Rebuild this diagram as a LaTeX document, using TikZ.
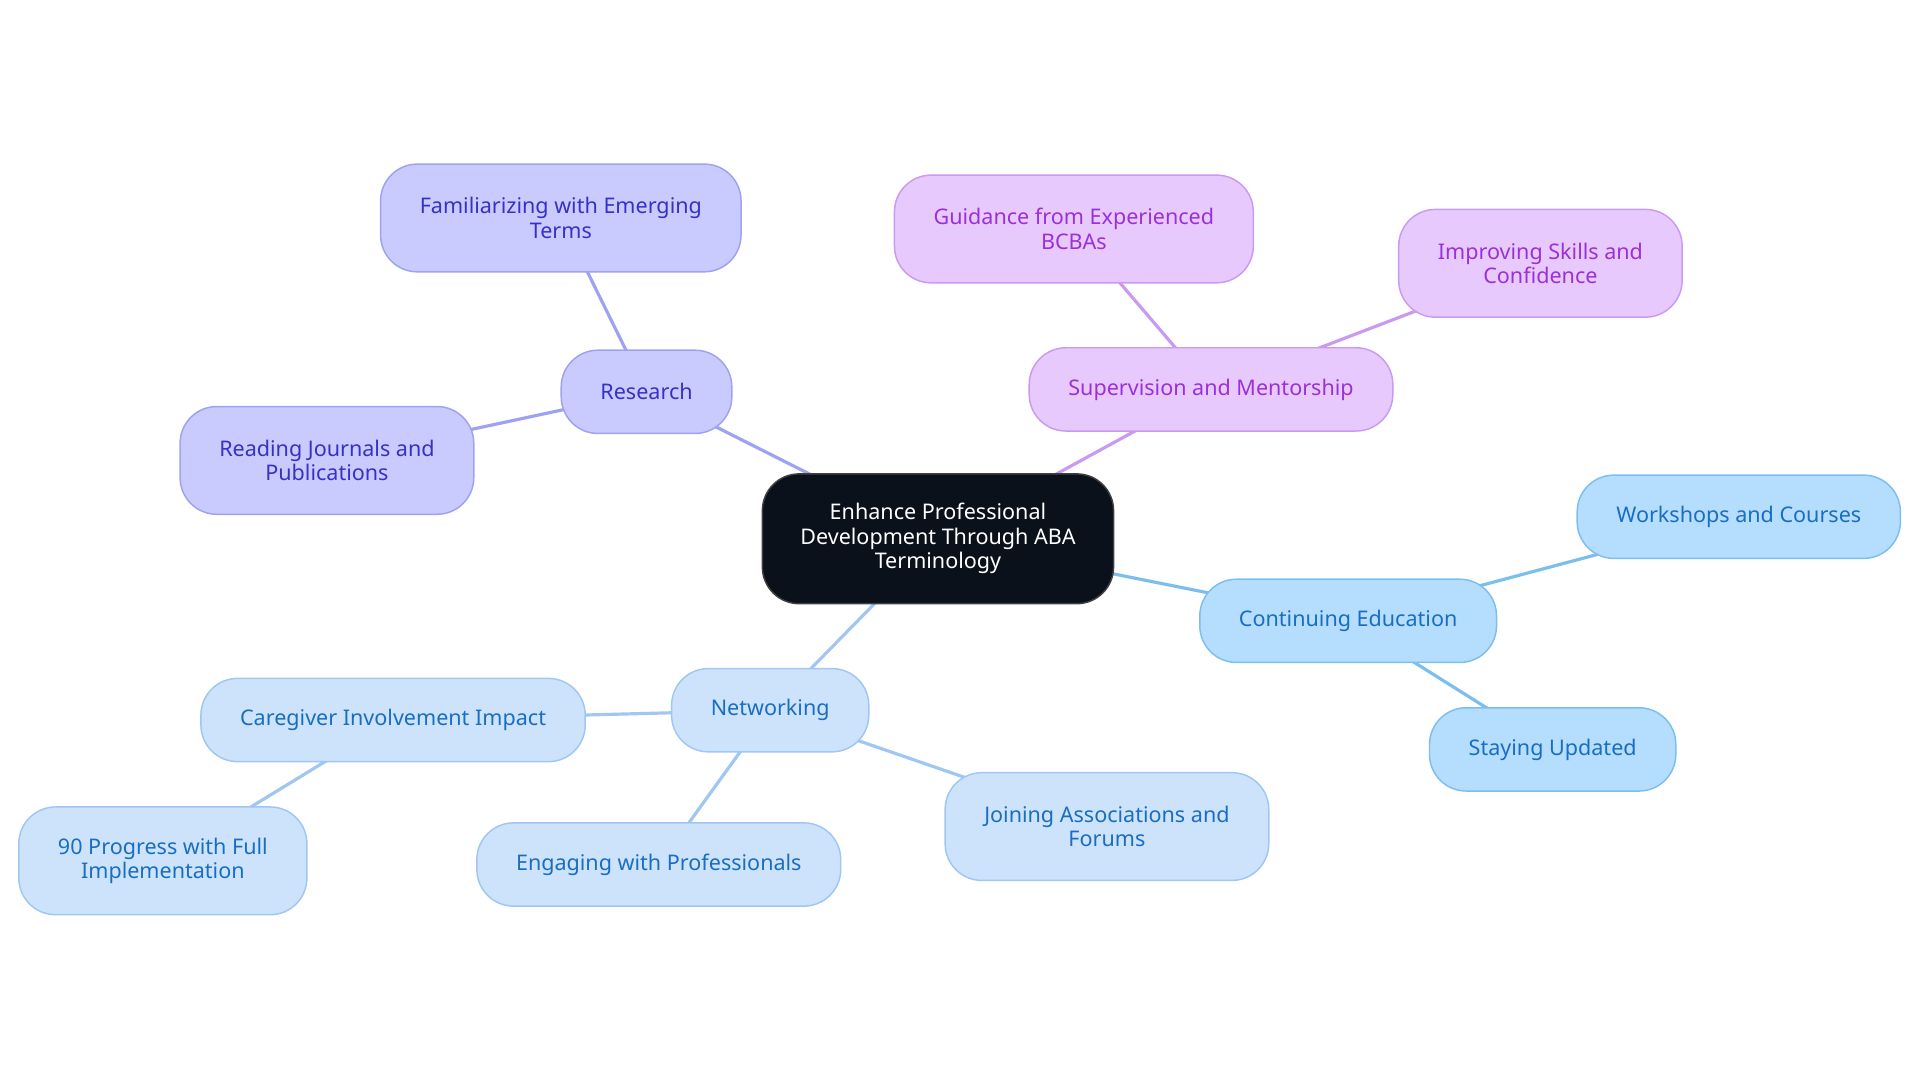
\documentclass[tikz,border=0pt]{standalone}
\usepackage{fontspec}
\setmainfont{Noto Sans}
\usepackage{tikz}
\usetikzlibrary{positioning,backgrounds}

\definecolor{rootfill}{HTML}{0B111A}
\definecolor{resfill}{HTML}{C9CAFE}
\definecolor{resline}{HTML}{9FA2F0}
\definecolor{restext}{HTML}{3632C6}
\definecolor{supfill}{HTML}{E8C9FE}
\definecolor{supline}{HTML}{C99AF0}
\definecolor{suptext}{HTML}{9A31D8}
\definecolor{edufill}{HTML}{B5DDFE}
\definecolor{eduline}{HTML}{7CBFEE}
\definecolor{edutext}{HTML}{1A6EC2}
\definecolor{netfill}{HTML}{CDE3FB}
\definecolor{netline}{HTML}{9FC7F1}
\definecolor{nettext}{HTML}{1A6EC2}

\begin{document}
\begin{tikzpicture}
    [
      x=0.5pt, y=-0.5pt,
      Box/.style={rectangle, rounded corners=15pt, thick, line width=0.6pt, align=center,
        inner xsep=16pt, minimum height=34pt, font=\fontsize{8.8}{10}\selectfont},
      Tall/.style={minimum height=44pt},
      Root/.style={Box, draw=black!75, fill=rootfill, text=white, minimum height=53pt, inner xsep=15.5pt},
      Res/.style={Box, draw=resline, fill=resfill, text=restext},
      Sup/.style={Box, draw=supline, fill=supfill, text=suptext},
      Edu/.style={Box, draw=eduline, fill=edufill, text=edutext},
      Net/.style={Box, draw=netline, fill=netfill, text=nettext},
      Link/.style={line width=1.3pt},
    ]
    \useasboundingbox (0,0) rectangle (1568,884.5);

    % Nodes
    \node[Root] (root) at (766, 440) {Enhance Professional\\Development Through ABA\\Terminology};

    \node[Res] (research) at (528, 320) {Research};
    \node[Res, Tall] (terms) at (458, 178) {Familiarizing with Emerging\\Terms};
    \node[Res, Tall] (journals) at (267, 376) {Reading Journals and\\Publications};

    \node[Sup] (super) at (989, 318) {Supervision and Mentorship};
    \node[Sup, Tall] (guide) at (877, 187) {Guidance from Experienced\\BCBAs};
    \node[Sup, Tall] (skills) at (1258, 215) {Improving Skills and\\Confidence};

    \node[Edu] (educ) at (1101, 507) {Continuing Education};
    \node[Edu] (workshops) at (1420, 422) {Workshops and Courses};
    \node[Edu] (updated) at (1268, 612) {Staying Updated};

    \node[Net] (network) at (629, 580) {Networking};
    \node[Net] (caregiver) at (321, 588) {Caregiver Involvement Impact};
    \node[Net, Tall] (progress) at (133, 703) {90 Progress with Full\\Implementation};
    \node[Net] (engage) at (538, 706) {Engaging with Professionals};
    \node[Net, Tall] (assoc) at (904, 675) {Joining Associations and\\Forums};

    % Lines
    \begin{scope}[on background layer]
      \path[Link, draw=resline] (root.center) -- (research.center);
      \path[Link, draw=resline] (research.center) -- (terms.center);
      \path[Link, draw=resline] (research.center) -- (journals.center);

      \path[Link, draw=supline] (root.center) -- (super.center);
      \path[Link, draw=supline] (super.center) -- (guide.center);
      \path[Link, draw=supline] (super.center) -- (skills.center);

      \path[Link, draw=eduline] (root.center) -- (educ.center);
      \path[Link, draw=eduline] (educ.center) -- (workshops.center);
      \path[Link, draw=eduline] (educ.center) -- (updated.center);

      \path[Link, draw=netline] (root.center) -- (network.center);
      \path[Link, draw=netline] (network.center) -- (caregiver.center);
      \path[Link, draw=netline] (caregiver.center) -- (progress.center);
      \path[Link, draw=netline] (network.center) -- (engage.center);
      \path[Link, draw=netline] (network.center) -- (assoc.center);
    \end{scope}

  \end{tikzpicture}
\end{document}
